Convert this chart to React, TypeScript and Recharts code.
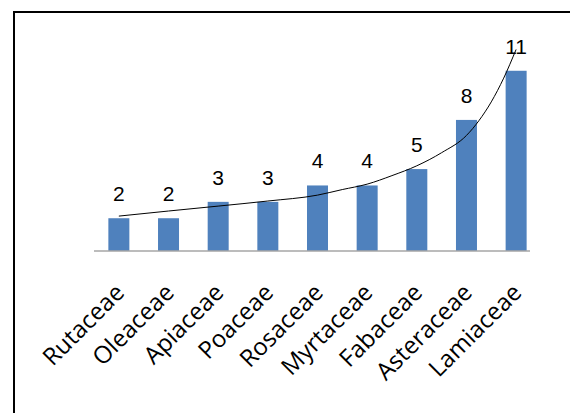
import React from 'react';
import { ComposedChart, Bar, Line, XAxis, YAxis, LabelList } from 'recharts';

// plant families and species counts
const families = [
  'Rutaceae',
  'Oleaceae',
  'Apiaceae',
  'Poaceae',
  'Rosaceae',
  'Myrtaceae',
  'Fabaceae',
  'Asteraceae',
  'Lamiaceae',
];
const counts = [2, 2, 3, 3, 4, 4, 5, 8, 11];
// trend curve (position in category units, value)
const trendPos = [0, 1, 2, 3, 4, 4.5, 5, 5.5, 6, 6.5, 7, 7.25, 7.5, 7.75, 8];
const trendVals = [2.13, 2.44, 2.74, 3.05, 3.41, 3.75, 4.08, 4.6, 5.2, 6.0, 7.05, 7.95, 9.1, 10.55, 12.3];
const catTicks = [0, 1, 2, 3, 4, 5, 6, 7, 8];

const barData = families.map((name, i) => ({ x: i, name, count: counts[i] }));
const trendData = trendPos.map((x, i) => ({ x, trend: trendVals[i] }));

const BAR_W = 21;

const FamilyTick = (props: any) => {
  const { x, y, payload } = props;
  return (
    <text
      transform={`translate(${x + 7},${y + 43}) rotate(-45)`}
      textAnchor="end"
      fontFamily="'Open Sans', sans-serif"
      fontSize={24}
      fill="#000"
    >
      {families[payload.value]}
    </text>
  );
};

// keep the bar centred on its category, with a fixed width
const BarShape = (props: any) => {
  const { x, y, width, height, fill } = props;
  if (!height) return null;
  return <rect x={x + width / 2 - BAR_W / 2} y={y} width={BAR_W} height={height} fill={fill} />;
};

const CountLabel = (props: any) => {
  const { x, y, width, value } = props;
  if (value == null) return null;
  return (
    <text
      x={x + width / 2}
      y={y - 17}
      textAnchor="middle"
      fontFamily="'Liberation Sans', Arial, sans-serif"
      fontSize={21}
      fill="#000"
    >
      {value}
    </text>
  );
};

export default function App() {
  return (
    <div
      style={{
        position: 'absolute',
        left: 0,
        top: 0,
        width: 570,
        height: 413,
        overflow: 'hidden',
        background: '#fff',
      }}
    >
      <div
        style={{
          position: 'absolute',
          left: 13,
          top: 11,
          width: 700,
          height: 600,
          border: '2px solid #000',
        }}
      />
      <div style={{ position: 'absolute', left: 0, top: 0 }}>
        <ComposedChart
          width={570}
          height={413}
          data={barData}
          margin={{ top: 38, right: 40, bottom: 0, left: 94 }}
        >
          <XAxis
            dataKey="x"
            type="number"
            domain={[-0.5, 8.28]}
            ticks={catTicks}
            interval={0}
            height={162}
            tickLine={false}
            tickSize={0}
            tickMargin={0}
            axisLine={{ stroke: '#a6a6a6', strokeWidth: 1.5 }}
            tick={<FamilyTick />}
          />
          <YAxis hide domain={[0, 13]} />
          <Bar
            dataKey="count"
            fill="#4f81bd"
            shape={<BarShape />}
            isAnimationActive={false}
          >
            <LabelList dataKey="count" content={<CountLabel />} />
          </Bar>
          <Line
            data={trendData}
            dataKey="trend"
            type="monotone"
            stroke="#000"
            strokeWidth={1}
            dot={false}
            activeDot={false}
            isAnimationActive={false}
          />
        </ComposedChart>
      </div>
    </div>
  );
}
